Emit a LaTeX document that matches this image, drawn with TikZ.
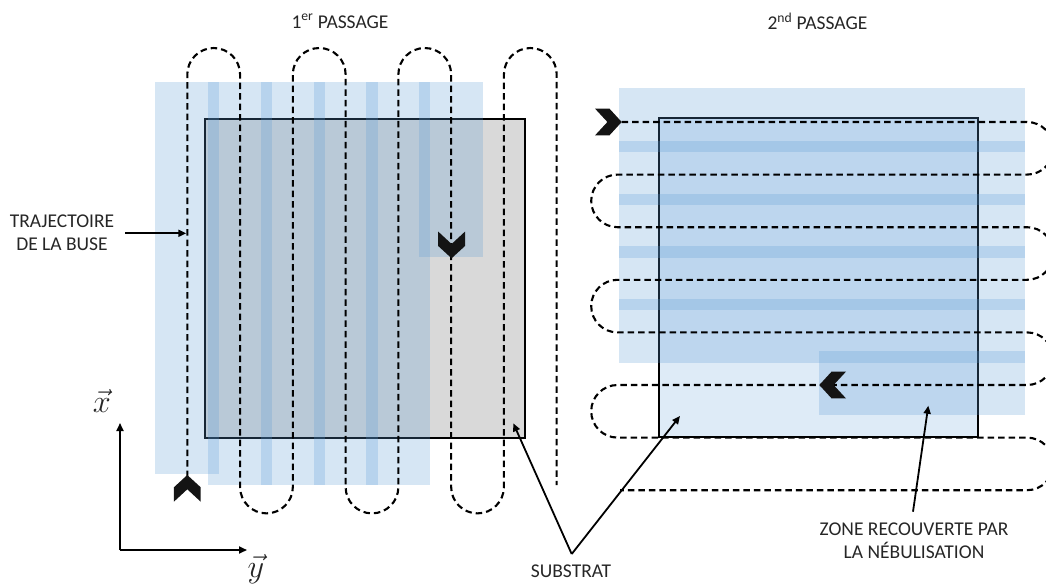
\documentclass[tikz,border=0pt]{standalone}
\usepackage{fontspec}
\setmainfont{Carlito}
\usetikzlibrary{arrows.meta}
\definecolor{spray}{HTML}{5B9BD5}
\definecolor{subgrey}{HTML}{D9D9D9}
\definecolor{subblue}{HTML}{DEEBF7}
\definecolor{txt}{HTML}{262626}
\tikzset{
  sprayzone/.style={fill=spray, fill opacity=0.25, draw=none},
  substrate/.style={draw=black, line width=2.2pt},
  trajet/.style={draw=black, line width=2.1pt, dash pattern=on 6.5pt off 4pt},
  chevron/.style={fill=black!92, draw=none},
  pointer/.style={draw=black, line width=1.8pt, -{Triangle[length=8pt,width=7pt]}},
  lbl/.style={font=\fontsize{19.5}{23}\selectfont, text=txt, align=center, inner sep=0pt},
  vec/.style={font=\fontsize{24.88}{28}\selectfont, text=txt, inner sep=0pt, scale=1.3},
}
\begin{document}
\begin{tikzpicture}[x=1pt,y=-1pt]
\useasboundingbox (0,0) rectangle (1046,586);
\clip (0,0) rectangle (1046,586);

% substrates
\path[substrate, fill=subgrey] (205,119.3) rectangle (525,438);
\path[substrate, fill=subblue] (659,118) rectangle (978.3,437);

% spray zones, first pass
\path[sprayzone] (155.3,81.7) rectangle (219.3,474);
\path[sprayzone] (208.1,81.7) rectangle (272.1,485);
\path[sprayzone] (260.8,81.7) rectangle (324.8,485);
\path[sprayzone] (313.6,81.7) rectangle (377.6,485);
\path[sprayzone] (366.4,81.7) rectangle (430.4,485);
\path[sprayzone] (419.2,81.7) rectangle (483.2,256.7);

% spray zones, second pass
\path[sprayzone] (619.3,88.3) rectangle (1025,152.3);
\path[sprayzone] (619.3,140.9) rectangle (1025,204.9);
\path[sprayzone] (619.3,193.5) rectangle (1025,257.5);
\path[sprayzone] (619.3,246.1) rectangle (1025,310.1);
\path[sprayzone] (619.3,298.7) rectangle (1025,362.7);
\path[sprayzone] (819.3,351.3) rectangle (1025,415.3);

% nozzle trajectory, first pass
\draw[trajet] (187.3,477) -- (187.3,74.4)
  arc[start angle=180,end angle=360,radius=26.385] -- (240.07,487)
  arc[start angle=180,end angle=0,radius=26.385] -- (292.84,74.4)
  arc[start angle=180,end angle=360,radius=26.385] -- (345.61,487)
  arc[start angle=180,end angle=0,radius=26.385] -- (398.38,74.4)
  arc[start angle=180,end angle=360,radius=26.385] -- (451.15,487)
  arc[start angle=180,end angle=0,radius=26.385] -- (503.92,74.4)
  arc[start angle=180,end angle=360,radius=26.385] -- (556.69,485);

% nozzle trajectory, second pass
\draw[trajet] (621.7,122) -- (1027,122)
  arc[start angle=-90,end angle=90,radius=26.3] -- (617.5,174.6)
  arc[start angle=-90,end angle=-270,radius=26.3] -- (1027,227.2)
  arc[start angle=-90,end angle=90,radius=26.3] -- (617.5,279.8)
  arc[start angle=-90,end angle=-270,radius=26.3] -- (1027,332.4)
  arc[start angle=-90,end angle=90,radius=26.3] -- (617.5,385)
  arc[start angle=-90,end angle=-270,radius=26.3] -- (1027,437.6)
  arc[start angle=-90,end angle=90,radius=26.3] -- (620,490.2);

% chevrons (nozzle direction)
\fill[chevron] (187.3,475) -- (200.7,487.3) -- (200.7,501.7) -- (187.3,489.3) -- (173.9,501.7) -- (173.9,487.3) -- cycle;
\fill[chevron] (451.6,258.3) -- (465,246) -- (465,231.6) -- (451.6,244) -- (438.2,231.6) -- (438.2,246) -- cycle;
\fill[chevron] (621.7,122) -- (609.4,108.6) -- (595,108.6) -- (607.4,122) -- (595,135.4) -- (609.4,135.4) -- cycle;
\fill[chevron] (819.3,385) -- (831.6,371.6) -- (846,371.6) -- (833.6,385) -- (846,398.4) -- (831.6,398.4) -- cycle;

% labels
\node[lbl] (t1) at (340,21.5) {1\textsuperscript{er} PASSAGE};
\node[lbl] (t2) at (817.5,21.5) {2\textsuperscript{nd} PASSAGE};
\node[lbl] (traj) at (62,233) {TRAJECTOIRE\\DE LA BUSE};
\node[lbl] (sub) at (571,571) {SUBSTRAT};
\node[lbl] (zone) at (914,541) {ZONE RECOUVERTE PAR\\LA NÉBULISATION};
\node[vec] (xl) at (102,401) {$\vec{x}$};
\node[vec] (yl) at (256,569) {$\vec{y}$};

% pointer arrows
\coordinate (trajtip) at (186.3,233.3);
\coordinate (subL) at (513.3,423.3);
\coordinate (subR) at (680,416);
\coordinate (subA) at (571.7,554);
\coordinate (zoneA) at (913,511.7);
\coordinate (zoneT) at (928.3,405.7);
\draw[pointer] ([xshift=11pt]traj.east |- trajtip) -- (trajtip);
\draw[pointer] (subA) -- (subL);
\draw[pointer] (subA) -- (subR);
\draw[pointer] (zoneA) -- (zoneT);

% axes
\coordinate (orig) at (120,550);
\coordinate (xend) at (120,423);
\coordinate (yend) at (247,550);
\draw[pointer] (orig) -- (xend);
\draw[pointer] (orig) -- (yend);
\end{tikzpicture}
\end{document}
